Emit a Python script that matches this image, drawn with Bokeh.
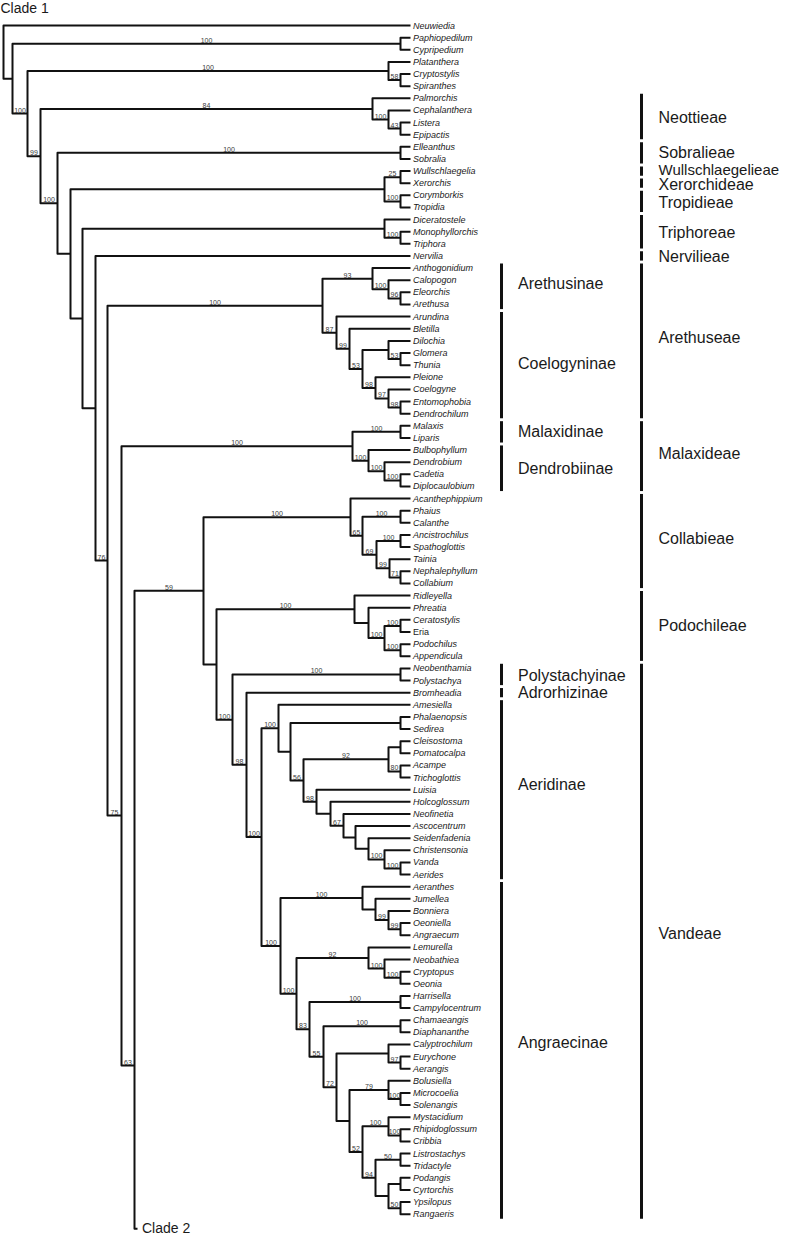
from bokeh.plotting import figure
from bokeh.models import Range1d
from bokeh.core.properties import value
from bokeh.embed import file_html
from bokeh.resources import INLINE

# ---------------- data ----------------
TIPS = [
    "Neuwiedia", "Paphiopedilum", "Cypripedium", "Platanthera", "Cryptostylis",
    "Spiranthes", "Palmorchis", "Cephalanthera", "Listera", "Epipactis",
    "Elleanthus", "Sobralia", "Wullschlaegelia", "Xerorchis", "Corymborkis",
    "Tropidia", "Diceratostele", "Monophyllorchis", "Triphora", "Nervilia",
    "Anthogonidium", "Calopogon", "Eleorchis", "Arethusa", "Arundina",
    "Bletilla", "Dilochia", "Glomera", "Thunia", "Pleione", "Coelogyne",
    "Entomophobia", "Dendrochilum", "Malaxis", "Liparis", "Bulbophyllum",
    "Dendrobium", "Cadetia", "Diplocaulobium", "Acanthephippium", "Phaius",
    "Calanthe", "Ancistrochilus", "Spathoglottis", "Tainia", "Nephalephyllum",
    "Collabium", "Ridleyella", "Phreatia", "Ceratostylis", "Eria",
    "Podochilus", "Appendicula", "Neobenthamia", "Polystachya", "Bromheadia",
    "Amesiella", "Phalaenopsis", "Sedirea", "Cleisostoma", "Pomatocalpa",
    "Acampe", "Trichoglottis", "Luisia", "Holcoglossum", "Neofinetia",
    "Ascocentrum", "Seidenfadenia", "Christensonia", "Vanda", "Aerides",
    "Aeranthes", "Jumellea", "Bonniera", "Oeoniella", "Angraecum",
    "Lemurella", "Neobathiea", "Cryptopus", "Oeonia", "Harrisella",
    "Campylocentrum", "Chamaeangis", "Diaphananthe", "Calyptrochilum",
    "Eurychone", "Aerangis", "Bolusiella", "Microcoelia", "Solenangis",
    "Mystacidium", "Rhipidoglossum", "Cribbia", "Listrostachys", "Tridactyle",
    "Podangis", "Cyrtorchis", "Ypsilopus", "Rangaeris",
]
UPRIGHT_TIPS = ["Eria"]

# internal nodes: (name, depth position, children, bootstrap support)
NODES = [
    ("Root", 3, ["Neuwiedia", "A"], None),
    ("A", 12, ["Paph", "B"], None),
    ("Paph", 400, ["Paphiopedilum", "Cypripedium"], 100),
    ("B", 27, ["Plat", "C"], 100),
    ("Plat", 388, ["Platanthera", "CS"], 100),
    ("CS", 400, ["Cryptostylis", "Spiranthes"], 58),
    ("C", 40, ["Neott", "D"], 99),
    ("Neott", 372, ["Palmorchis", "Ceph"], 84),
    ("Ceph", 388, ["Cephalanthera", "LE"], 100),
    ("LE", 400, ["Listera", "Epipactis"], 43),
    ("D", 57, ["Sobr", "E"], 100),
    ("Sobr", 400, ["Elleanthus", "Sobralia"], 100),
    ("E", 70, ["WT", "F"], None),
    ("WT", 384, ["WX", "CT"], None),
    ("WX", 400, ["Wullschlaegelia", "Xerorchis"], 25),
    ("CT", 400, ["Corymborkis", "Tropidia"], 100),
    ("F", 82, ["Triph", "G"], None),
    ("Triph", 384, ["Diceratostele", "MT"], None),
    ("MT", 400, ["Monophyllorchis", "Triphora"], 100),
    ("G", 95, ["Nervilia", "H"], None),
    ("H", 107, ["Areth", "I"], 76),
    ("Areth", 322, ["Arethusinae", "Coel"], 100),
    ("Arethusinae", 372, ["Anthogonidium", "Cal"], 93),
    ("Cal", 388, ["Calopogon", "EA"], 100),
    ("EA", 400, ["Eleorchis", "Arethusa"], 96),
    ("Coel", 336, ["Arundina", "BL"], 87),
    ("BL", 349, ["Bletilla", "DIL"], 99),
    ("DIL", 362, ["DGT", "PL"], 53),
    ("DGT", 388, ["Dilochia", "GT"], None),
    ("GT", 400, ["Glomera", "Thunia"], 53),
    ("PL", 375, ["Pleione", "COE"], 98),
    ("COE", 388, ["Coelogyne", "ED"], 97),
    ("ED", 400, ["Entomophobia", "Dendrochilum"], 98),
    ("I", 121, ["Malax", "J"], 75),
    ("Malax", 352, ["ML", "BU"], 100),
    ("ML", 400, ["Malaxis", "Liparis"], 100),
    ("BU", 368, ["Bulbophyllum", "DEND"], 100),
    ("DEND", 384, ["Dendrobium", "CD"], 100),
    ("CD", 400, ["Cadetia", "Diplocaulobium"], 100),
    ("J", 134, ["K", "Clade 2"], 63),
    ("K", 203, ["Collab", "L"], 59),
    ("Collab", 350, ["Acanthephippium", "PH"], 100),
    ("PH", 362, ["PHC", "ANC"], 65),
    ("PHC", 400, ["Phaius", "Calanthe"], 100),
    ("ANC", 376, ["AS", "TN"], 69),
    ("AS", 400, ["Ancistrochilus", "Spathoglottis"], 100),
    ("TN", 389, ["Tainia", "NC"], 99),
    ("NC", 400, ["Nephalephyllum", "Collabium"], 71),
    ("L", 216, ["Podo", "Vand"], None),
    ("Podo", 354, ["Ridleyella", "PHR"], 100),
    ("PHR", 368, ["Phreatia", "CP"], None),
    ("CP", 384, ["CE", "PA"], 100),
    ("CE", 400, ["Ceratostylis", "Eria"], 100),
    ("PA", 400, ["Podochilus", "Appendicula"], 100),
    ("Vand", 232, ["Poly", "V2"], 100),
    ("Poly", 400, ["Neobenthamia", "Polystachya"], 100),
    ("V2", 246, ["Bromheadia", "V3"], 98),
    ("V3", 261, ["Aerid", "Angr"], 100),
    ("Aerid", 278, ["Amesiella", "PH2"], 100),
    ("PH2", 290, ["PHS", "CL"], None),
    ("PHS", 400, ["Phalaenopsis", "Sedirea"], None),
    ("CL", 303, ["CLP", "LU"], 56),
    ("CLP", 388, ["CP2", "AT"], 92),
    ("CP2", 400, ["Cleisostoma", "Pomatocalpa"], None),
    ("AT", 400, ["Acampe", "Trichoglottis"], 80),
    ("LU", 316, ["Luisia", "HO"], 98),
    ("HO", 330, ["Holcoglossum", "NE"], None),
    ("NE", 343, ["Neofinetia", "AS2"], 67),
    ("AS2", 355, ["Ascocentrum", "SE"], None),
    ("SE", 368, ["Seidenfadenia", "CH"], None),
    ("CH", 384, ["Christensonia", "VA"], 100),
    ("VA", 400, ["Vanda", "Aerides"], 100),
    ("Angr", 280, ["AE", "X"], 100),
    ("AE", 362, ["Aeranthes", "JU"], 100),
    ("JU", 375, ["Jumellea", "BO"], None),
    ("BO", 388, ["Bonniera", "OA"], 99),
    ("OA", 400, ["Oeoniella", "Angraecum"], 99),
    ("X", 296, ["LE2", "Y"], 100),
    ("LE2", 368, ["Lemurella", "NB"], 92),
    ("NB", 384, ["Neobathiea", "CO"], 100),
    ("CO", 400, ["Cryptopus", "Oeonia"], 100),
    ("Y", 309, ["HC", "Z"], 83),
    ("HC", 400, ["Harrisella", "Campylocentrum"], 100),
    ("Z", 323, ["CD2", "W"], 55),
    ("CD2", 400, ["Chamaeangis", "Diaphananthe"], 100),
    ("W", 336, ["CAL2", "B2"], 72),
    ("CAL2", 388, ["Calyptrochilum", "EA2"], None),
    ("EA2", 400, ["Eurychone", "Aerangis"], 97),
    ("B2", 349, ["BOL", "M"], None),
    ("BOL", 388, ["Bolusiella", "MS"], 79),
    ("MS", 400, ["Microcoelia", "Solenangis"], 100),
    ("M", 362, ["MY", "LI"], 52),
    ("MY", 388, ["Mystacidium", "RC"], 100),
    ("RC", 400, ["Rhipidoglossum", "Cribbia"], 100),
    ("LI", 375, ["LT", "PC2"], 94),
    ("LT", 400, ["Listrostachys", "Tridactyle"], 50),
    ("PC2", 388, ["PC", "YR"], None),
    ("PC", 400, ["Podangis", "Cyrtorchis"], None),
    ("YR", 400, ["Ypsilopus", "Rangaeris"], 50),
]

SUBTRIBES = [
    ("Arethusinae", "Anthogonidium", "Arethusa"),
    ("Coelogyninae", "Arundina", "Dendrochilum"),
    ("Malaxidinae", "Malaxis", "Liparis"),
    ("Dendrobiinae", "Bulbophyllum", "Diplocaulobium"),
    ("Polystachyinae", "Neobenthamia", "Polystachya"),
    ("Adrorhizinae", "Bromheadia", "Bromheadia"),
    ("Aeridinae", "Amesiella", "Aerides"),
    ("Angraecinae", "Aeranthes", "Rangaeris"),
]
TRIBES = [
    ("Neottieae", "Palmorchis", "Epipactis"),
    ("Sobralieae", "Elleanthus", "Sobralia"),
    ("Wullschlaegelieae", "Wullschlaegelia", "Wullschlaegelia"),
    ("Xerorchideae", "Xerorchis", "Xerorchis"),
    ("Tropidieae", "Corymborkis", "Tropidia"),
    ("Triphoreae", "Diceratostele", "Triphora"),
    ("Nervilieae", "Nervilia", "Nervilia"),
    ("Arethuseae", "Anthogonidium", "Dendrochilum"),
    ("Malaxideae", "Malaxis", "Diplocaulobium"),
    ("Collabieae", "Acanthephippium", "Collabium"),
    ("Podochileae", "Ridleyella", "Appendicula"),
    ("Vandeae", "Neobenthamia", "Rangaeris"),
]

# ---------------- layout ----------------
W, H = 787, 1237
TIP_X = 410
TIP_LABEL_X = 412.5
STEP = 12.13                       # px per tip row
ROW0 = 25                          # px of first tip row
Y_OVERRIDE = {"I": 65.13, "J": 85.74}   # backbone nodes drawn off-midpoint
CLADE2_POS = (137, 99.2)
SUB_BAR_X, SUB_LABEL_X = 501, 517.5
TRIBE_BAR_X, TRIBE_LABEL_X = 641, 658
BAR_PAD = 0.38
LABEL_NUDGE = {  # px
    "Neottieae": 1, "Wullschlaegelieae": -2, "Xerorchideae": 1.5, "Tropidieae": 1.5,
    "Triphoreae": 1, "Nervilieae": 1, "Arethuseae": -3, "Malaxideae": -2.5,
    "Collabieae": -2.3, "Vandeae": -7.6, "Arethusinae": -2.5, "Coelogyninae": -1.4,
    "Polystachyinae": 1, "Aeridinae": -5, "Angraecinae": -8,
}
FONT = value("Liberation Sans")
INK = "#111111"

# ---------------- geometry via tree ----------------
pos = {name: (TIP_X, float(i)) for i, name in enumerate(TIPS)}
pos["Clade 2"] = CLADE2_POS
node_map = {n[0]: n for n in NODES}
parent = {}
for name, x, ch, sup in NODES:
    for c in ch:
        parent[c] = name


def place(name):
    if name in pos:
        return pos[name]
    _, x, ch, _ = node_map[name]
    ys = [place(c)[1] for c in ch]
    y = Y_OVERRIDE.get(name, (ys[0] + ys[-1]) / 2.0)
    pos[name] = (x, y)
    return pos[name]


place("Root")

xs, ys = [], []
for name, x, ch, sup in NODES:
    nx, ny = pos[name]
    (x1, y1), (x2, y2) = pos[ch[0]], pos[ch[-1]]
    xs.append([x1, nx, nx, x2])
    ys.append([y1, y1, y2, y2])

sup_x, sup_y, sup_t = [], [], []
for name, x, ch, sup in NODES:
    if sup is None:
        continue
    px = pos[parent[name]][0]
    sup_x.append((px + pos[name][0]) / 2.0)
    sup_y.append(pos[name][1])
    sup_t.append(str(sup))

# ---------------- figure ----------------
k_top = (0 - ROW0) / STEP
k_bot = (H - ROW0) / STEP
p = figure(width=W, height=H, x_range=Range1d(0, W), y_range=Range1d(k_bot, k_top),
           output_backend="svg", toolbar_location=None, min_border=0,
           x_axis_location=None, y_axis_location=None)
p.grid.visible = False
p.outline_line_color = None
p.background_fill_color = "white"

p.multi_line(xs=xs, ys=ys, line_color=INK, line_width=2, line_join="round")

# tip labels
it_names = [t for t in TIPS if t not in UPRIGHT_TIPS]
up_names = [t for t in TIPS if t in UPRIGHT_TIPS]
p.text(x=[TIP_LABEL_X] * len(it_names), y=[pos[t][1] for t in it_names], text=it_names,
       text_font=FONT, text_font_style="italic", text_font_size="9px",
       text_baseline="middle", text_color="#1a1a1a")
p.text(x=[TIP_LABEL_X] * len(up_names), y=[pos[t][1] for t in up_names], text=up_names,
       text_font=FONT, text_font_size="9px", text_baseline="middle", text_color="#1a1a1a")

# support values
p.text(x=sup_x, y=sup_y, text=sup_t, text_font=FONT, text_font_size="7px",
       text_align="center", text_baseline="bottom", y_offset=-1, text_color="#3a3a3a")


def groups(defs, bar_x, label_x):
    bx, b0, b1, lx, ly, lt = [], [], [], [], [], []
    for name, first, last in defs:
        a, b = pos[first][1], pos[last][1]
        bx.append(bar_x)
        b0.append(a - BAR_PAD)
        b1.append(b + BAR_PAD)
        lt.append(name)
        lx.append(label_x)
        ly.append((a + b) / 2.0 + LABEL_NUDGE.get(name, 0) / STEP)
    p.segment(x0=bx, y0=b0, x1=bx, y1=b1, line_color=INK, line_width=3)
    return lx, ly, lt


for defs, bx_, lx_ in ((SUBTRIBES, SUB_BAR_X, SUB_LABEL_X), (TRIBES, TRIBE_BAR_X, TRIBE_LABEL_X)):
    lx, ly, lt = groups(defs, bx_, lx_)
    big = [i for i, t in enumerate(lt) if t != "Wullschlaegelieae"]
    sml = [i for i, t in enumerate(lt) if t == "Wullschlaegelieae"]
    p.text(x=[lx[i] for i in big], y=[ly[i] for i in big], text=[lt[i] for i in big],
           text_font=FONT, text_font_size="16px", text_baseline="middle", text_color="#1a1a1a")
    if sml:
        p.text(x=[lx[i] for i in sml], y=[ly[i] for i in sml], text=[lt[i] for i in sml],
               text_font=FONT, text_font_size="15px", text_baseline="middle",
               text_color="#1a1a1a")

# clade captions
p.text(x=[0], y=[(7.5 - ROW0) / STEP], text=["Clade 1"], text_font=FONT,
       text_font_size="14px", text_baseline="middle", text_color="#1a1a1a")
p.text(x=[141.5], y=[(1227 - ROW0) / STEP], text=["Clade 2"], text_font=FONT,
       text_font_size="14px", text_baseline="middle", text_color="#1a1a1a")

open("out.html", "w").write(file_html(p, INLINE))
